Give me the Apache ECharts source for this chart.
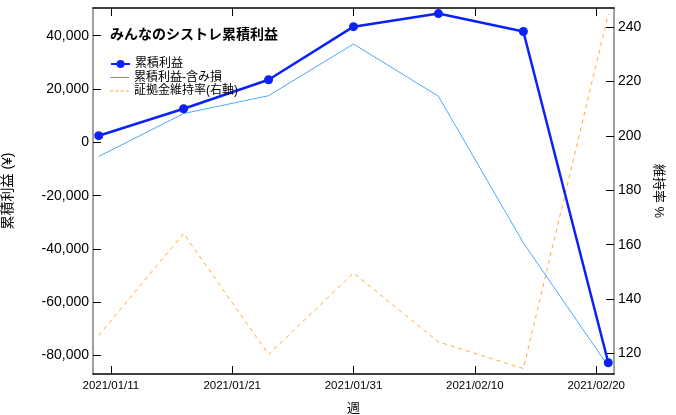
<!DOCTYPE html>
<html>
<head>
<meta charset="utf-8">
<script src="https://cdn.jsdelivr.net/npm/echarts@6/dist/echarts.min.js"></script>
<style>
html,body{margin:0;padding:0;background:#fff;}
#chart{width:676px;height:415px;}
</style>
</head>
<body>
<div id="chart"></div>
<script>
// ---- data ----
const weeks = ['2021-01-10','2021-01-17','2021-01-24','2021-01-31','2021-02-07','2021-02-14','2021-02-21'];
const cumProfit = [2500, 12600, 23500, 43400, 48300, 41600, -82700];
const cumProfitUnrealized = [-5300, 10800, 17500, 36900, 17300, -37700, -84000];
const marginRate = [126.7, 164.1, 119.7, 149.6, 124.3, 114.5, 244.8];
const xTickLabels = ['2021/01/11','2021/01/21','2021/01/31','2021/02/10','2021/02/20'];
const leftTicks = [-80000, -60000, -40000, -20000, 0, 20000, 40000];
const rightTicks = [120, 140, 160, 180, 200, 220, 240];

const FONT = '"Liberation Sans", "Noto Sans CJK JP", sans-serif';
const DAY = 86400000;
function ts(s){ const p = s.split(/[-\/]/).map(Number); return Date.UTC(p[0], p[1]-1, p[2]); }
function pad2(n){ return (n<10?'0':'') + n; }
function fmtDate(v){ const d = new Date(v); return d.getUTCFullYear() + '/' + pad2(d.getUTCMonth()+1) + '/' + pad2(d.getUTCDate()); }

const xs = weeks.map(ts);
const xTicks = xTickLabels.map(ts);
const xMin = xs[0] - 0.47*DAY, xMax = xs[xs.length-1] + 0.47*DAY;

const s1 = xs.map((x,i)=>[x, cumProfit[i]]);
const s2 = xs.map((x,i)=>[x, cumProfitUnrealized[i]]);
const s3 = xs.map((x,i)=>[x, marginRate[i]]);

const BLUE = '#0a22f5', LIGHT = '#4aa8ff', ORANGE = '#ffaa38';
const SOLID_ICON = 'path://M0,0h36v2h-36z';
const DASH_ICON = 'path://M0,0h6v2h-6z M10,0h6v2h-6z M20,0h6v2h-6z M30,0h6v2h-6z';

const legendBase = {orient:'vertical', left:105, itemWidth:19, itemHeight:10, itemGap:0,
  textStyle:{fontSize:12, color:'#000', fontFamily: FONT}};

const chart = echarts.init(document.getElementById('chart'), null, {renderer:'canvas'});
chart.setOption({
  animation: false,
  backgroundColor: '#fff',
  textStyle: {fontFamily: FONT},
  title: {
    text: 'みんなのシストレ累積利益',
    left: 105, top: 23,
    textStyle: {fontSize: 14, fontWeight: 'bold', color: '#000', fontFamily: FONT}
  },
  legend: [
    Object.assign({}, legendBase, {top:53, data:['累積利益']}),
    Object.assign({}, legendBase, {top:66.5, data:[{name:'累積利益-含み損', icon: SOLID_ICON,
       itemStyle:{color: LIGHT, borderWidth:0}}]}),
    Object.assign({}, legendBase, {top:80, data:[{name:'証拠金維持率(右軸)', icon: DASH_ICON,
       itemStyle:{color: ORANGE, borderWidth:0}}]})
  ],
  grid: {left: 93, right: 62, top: 8, bottom: 41, containLabel: false, outerBoundsMode: 'none'},
  xAxis: [
    {
      type: 'value', min: xMin, max: xMax, position: 'bottom',
      name: '週', nameLocation: 'middle', nameGap: 28,
      nameTextStyle: {fontSize: 13, color: '#000', fontFamily: FONT},
      axisLine: {show: true, onZero: false, lineStyle: {color: '#000', width: 1.5}},
      axisTick: {show: true, inside: true, length: 8, customValues: xTicks, lineStyle:{color:'#000', width:1}},
      axisLabel: {customValues: xTicks, formatter: fmtDate, fontSize: 11.5, color: '#000', margin: 6, fontFamily: FONT},
      splitLine: {show: false}
    },
    {
      type: 'value', min: xMin, max: xMax, position: 'top',
      axisLine: {show: true, onZero: false, lineStyle: {color: '#000', width: 1.5}},
      axisTick: {show: true, inside: true, length: 8, customValues: xTicks, lineStyle:{color:'#000', width:1}},
      axisLabel: {show: false},
      splitLine: {show: false}
    }
  ],
  yAxis: [
    {
      type: 'value', min: -86900, max: 50400, position: 'left',
      name: '累積利益 (¥)', nameLocation: 'middle', nameGap: 78,
      nameTextStyle: {fontSize: 14, color: '#000', fontFamily: FONT},
      axisLine: {show: true, onZero: false, lineStyle: {color: '#808080', width: 1.5}},
      axisTick: {show: true, inside: true, length: 8, customValues: leftTicks, lineStyle:{color:'#000', width:1}},
      axisLabel: {customValues: leftTicks, fontSize: 14, color: '#000', margin: 4, fontFamily: FONT,
                  formatter: v => v.toLocaleString('en-US')},
      splitLine: {show: false}
    },
    {
      type: 'value', min: 112.5, max: 247, position: 'right',
      name: '維持率 %', nameLocation: 'middle', nameGap: 34, nameRotate: -90,
      nameTextStyle: {fontSize: 13, color: '#000', fontFamily: FONT},
      axisLine: {show: true, onZero: false, lineStyle: {color: '#808080', width: 1.5}},
      axisTick: {show: true, inside: true, length: 8, customValues: rightTicks, lineStyle:{color:'#000', width:1}},
      axisLabel: {customValues: rightTicks, fontSize: 14, color: '#000', margin: 4, fontFamily: FONT},
      splitLine: {show: false}
    }
  ],
  series: [
    {
      name: '証拠金維持率(右軸)', type: 'line', xAxisIndex: 0, yAxisIndex: 1, data: s3,
      symbol: 'none', z: 1,
      lineStyle: {color: ORANGE, width: 1, type: [4, 4]},
      itemStyle: {color: ORANGE}
    },
    {
      name: '累積利益-含み損', type: 'line', xAxisIndex: 0, yAxisIndex: 0, data: s2,
      symbol: 'none', z: 2,
      lineStyle: {color: LIGHT, width: 1},
      itemStyle: {color: LIGHT}
    },
    {
      name: '累積利益', type: 'line', xAxisIndex: 0, yAxisIndex: 0, data: s1,
      symbol: 'circle', symbolSize: 9, showSymbol: true, z: 3,
      lineStyle: {color: BLUE, width: 2.5},
      itemStyle: {color: BLUE}
    }
  ]
});
</script>
</body>
</html>
